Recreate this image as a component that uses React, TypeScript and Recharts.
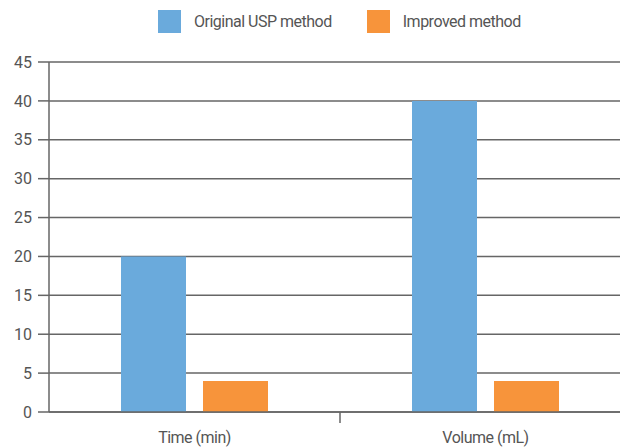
import { BarChart, Bar, XAxis, YAxis, CartesianGrid, Legend } from 'recharts'

const categories = ['Time (min)', 'Volume (mL)']
const originalUsp = [20, 40]
const improved = [4, 4]
const yTicks = [0, 5, 10, 15, 20, 25, 30, 35, 40, 45]

const BLUE = '#6aaadc'
const ORANGE = '#f7943b'
const TEXT = '#555555'
const LINE = '#666666'
const FONT = 'Roboto, sans-serif'

const data = categories.map((c, i) => ({ name: c, orig: originalUsp[i], imp: improved[i] }))

const LegendContent = () => {
  const items = [
    { label: 'Original USP method', color: BLUE },
    { label: 'Improved method', color: ORANGE },
  ]
  return (
    <div style={{ display: 'flex', marginLeft: 158, fontFamily: FONT, fontSize: 16, letterSpacing: -0.5, color: TEXT }}>
      {items.map((it, i) => (
        <div key={it.label} style={{ display: 'flex', alignItems: 'center', marginRight: i === 0 ? 35 : 0 }}>
          <div style={{ width: 23, height: 23, background: it.color, marginRight: 13 }} />
          <span>{it.label}</span>
        </div>
      ))}
    </div>
  )
}

const CategoryTick = (props: any) => {
  const { x, y, payload, index } = props
  const half = payload?.offset ?? 145.5
  return (
    <g>
      {index === 0 && <line x1={x + half} y1={y - 8} x2={x + half} y2={y + 3} stroke={LINE} strokeWidth={1.5} />}
      <text x={x} y={y + 23} textAnchor="middle" fill={TEXT} fontSize={16} letterSpacing={-0.5} fontFamily={FONT}>
        {payload.value}
      </text>
    </g>
  )
}

export default function App() {
  return (
    <div style={{ position: 'absolute', left: 0, top: 0, width: 620, height: 447, overflow: 'hidden', background: '#fff' }}>
      <BarChart
        width={640}
        height={447}
        data={data}
        margin={{ top: 39, right: 9, bottom: 5, left: 0 }}
        barSize={65}
        barGap={17}
      >
        <Legend
          verticalAlign="top"
          align="left"
          content={<LegendContent />}
          wrapperStyle={{ top: 10, left: 0 }}
        />
        <CartesianGrid vertical={false} stroke={LINE} strokeWidth={1.5} />
        <XAxis
          dataKey="name"
          height={30}
          axisLine={{ stroke: LINE, strokeWidth: 1.5 }}
          tickLine={false}
          tick={<CategoryTick />}
          interval={0}
        />
        <YAxis
          width={49}
          domain={[0, 45]}
          ticks={yTicks}
          interval={0}
          axisLine={{ stroke: LINE, strokeWidth: 1.5 }}
          tickLine={{ stroke: LINE, strokeWidth: 1.5 }}
          tickSize={11}
          tickMargin={6}
          tick={{ fill: TEXT, fontSize: 16, fontFamily: FONT }}
        />
        <Bar dataKey="orig" name="Original USP method" fill={BLUE} isAnimationActive={false} />
        <Bar dataKey="imp" name="Improved method" fill={ORANGE} isAnimationActive={false} />
      </BarChart>
    </div>
  )
}
